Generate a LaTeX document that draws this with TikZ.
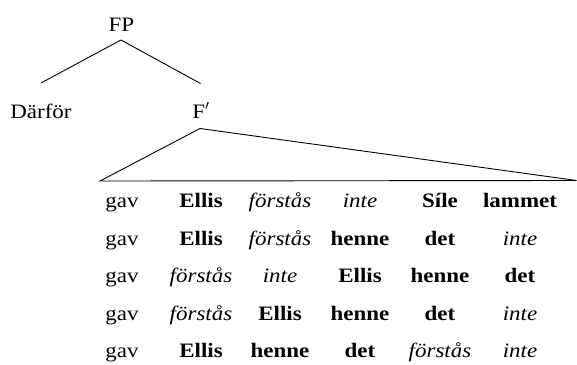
\documentclass[tikz,border=0pt]{standalone}
\usepackage{fontspec}
\setmainfont[FakeStretch=1.12]{Liberation Serif}
\begin{document}
\begin{tikzpicture}[x=1pt,y=-1pt,
  w/.style={anchor=base,inner sep=0pt,font=\fontsize{20.5}{24}\selectfont},
  b/.style={w,font=\fontsize{20.5}{24}\selectfont\bfseries},
  it/.style={w,font=\fontsize{20.5}{24}\selectfont\itshape},
  branch/.style={line width=0.9pt,black}]
\useasboundingbox (0,0) rectangle (577,364);
% tree
\node[w] (FP) at (121.5,31.7) {FP};
\node[w] (Darfor) at (41,118.3) {Därför};
\node[w] (Fbar) at (201,118.3) {F$'$};
\coordinate (fpb) at (121,40);
\coordinate (dt) at (41,83);
\coordinate (ft) at (200.5,83.5);
\coordinate (apex) at (200,128.5);
\coordinate (tl) at (100,181);
\coordinate (tr) at (576.5,180.5);
\draw[branch] (fpb) -- (dt);
\draw[branch] (fpb) -- (ft);
\draw[branch] (tl) -- (apex) -- (tr) -- cycle;
% rows
\def\ya{207.7}\def\yb{245.2}\def\yc{282.7}\def\yd{320.2}\def\ye{357.7}
\node[w]  (a1) at (122,\ya) {gav};
\node[b]  (a2) at (201,\ya) {Ellis};
\node[it] (a3) at (280,\ya) {förstås};
\node[it] (a4) at (360,\ya) {inte};
\node[b]  (a5) at (440,\ya) {Síle};
\node[b]  (a6) at (520,\ya) {lammet};
\node[w]  (b1) at (122,\yb) {gav};
\node[b]  (b2) at (201,\yb) {Ellis};
\node[it] (b3) at (280,\yb) {förstås};
\node[b]  (b4) at (360,\yb) {henne};
\node[b]  (b5) at (440,\yb) {det};
\node[it] (b6) at (520,\yb) {inte};
\node[w]  (c1) at (122,\yc) {gav};
\node[it] (c2) at (201,\yc) {förstås};
\node[it] (c3) at (280,\yc) {inte};
\node[b]  (c4) at (360,\yc) {Ellis};
\node[b]  (c5) at (440,\yc) {henne};
\node[b]  (c6) at (520,\yc) {det};
\node[w]  (d1) at (122,\yd) {gav};
\node[it] (d2) at (201,\yd) {förstås};
\node[b]  (d3) at (280,\yd) {Ellis};
\node[b]  (d4) at (360,\yd) {henne};
\node[b]  (d5) at (440,\yd) {det};
\node[it] (d6) at (520,\yd) {inte};
\node[w]  (e1) at (122,\ye) {gav};
\node[b]  (e2) at (201,\ye) {Ellis};
\node[b]  (e3) at (280,\ye) {henne};
\node[b]  (e4) at (360,\ye) {det};
\node[it] (e5) at (440,\ye) {förstås};
\node[it] (e6) at (520,\ye) {inte};
\end{tikzpicture}
\end{document}
